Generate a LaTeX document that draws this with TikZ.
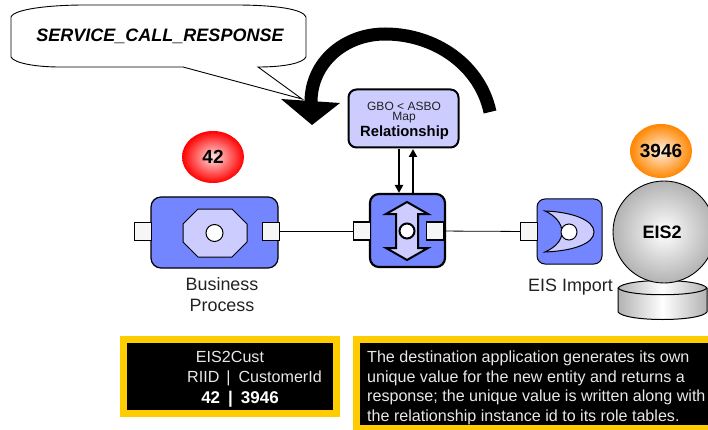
\documentclass[tikz,border=0pt]{standalone}
\usepackage{fontspec}
\setmainfont{Liberation Sans}
\usetikzlibrary{arrows.meta,shapes.geometric}
\definecolor{boxblue}{HTML}{7486FF}
\definecolor{pale}{HTML}{CCCCFF}
\definecolor{portfill}{HTML}{F6F6F6}
\definecolor{gold}{HTML}{FFCC00}
\definecolor{txt}{HTML}{222222}
\definecolor{notetxt}{HTML}{E8E8E8}
\tikzset{
  lbl/.style={font=\fontsize{17.9}{20}\selectfont,text=txt,inner sep=0pt,align=center},
  notetext/.style={font=\fontsize{16.1}{19.6}\selectfont,text=notetxt,inner sep=0pt},
  counter/.style={font=\bfseries\fontsize{19}{22}\selectfont,text=black,inner sep=0pt},
  port/.style={draw=black,fill=portfill,line width=1pt,minimum width=17pt,minimum height=18pt,inner sep=0pt},
  portthick/.style={port,line width=1.8pt},
  wire/.style={draw=black,line width=0.8pt},
  flow/.style={draw=black,line width=2pt,-{Triangle[length=8pt,width=8pt]}},
  note/.style={fill=black,draw=gold,line width=7pt}
}
\begin{document}
\begin{tikzpicture}[x=1pt,y=-1pt]
\useasboundingbox (0,0) rectangle (708,430);
\clip (0,0) rectangle (708,430);
% callout
\draw[fill=white,line width=0.9pt] (11,17) .. controls (14,9) and (50,5) .. (85,5) -- (235,5)
  .. controls (275,5) and (303,9) .. (306,17) -- (306,57)
  .. controls (303,63) and (285,67) .. (258,67) -- (302,99) -- (183,67) -- (60,67)
  .. controls (35,67) and (14,63) .. (11,57) -- cycle;
\node[font=\bfseries\itshape\fontsize{18}{20}\selectfont,inner sep=0pt] (callout) at (160,36) {SERVICE\_CALL\_RESPONSE};
% big arc
\draw[line width=13pt] (490,112) .. controls (480,65) and (435,34) .. (385,34)
  .. controls (345,34) and (311,62) .. (311,102);
\fill (281,99) -- (340,103) -- (312,125) -- cycle;
% relationship
\node[draw=black,fill=pale,line width=2pt,rounded corners=8pt,minimum width=110pt,minimum height=58pt,inner sep=0pt] (rel) at (403.5,118.5) {};
\node[lbl,font=\fontsize{12}{14}\selectfont] (gbo) at (404,106) {GBO < ASBO};
\node[lbl,font=\fontsize{12}{14}\selectfont] (map) at (404,118) {Map};
\node[lbl,font=\bfseries\fontsize{14.8}{18}\selectfont,text=black] (reltxt) at (404.5,133) {Relationship};
% counters
\node[ellipse,minimum width=62pt,minimum height=52pt,inner sep=0pt,inner color=white!88!red,outer color=red] (red) at (213,157) {};
\path (213,157) node[counter] (c42) {42};
\node[ellipse,minimum width=62pt,minimum height=54pt,inner sep=0pt,inner color=white!88!orange,outer color=orange!95!yellow] (org) at (661,151) {};
\path (661,151) node[counter] (c3946) {3946};
% business process
\node[draw=black,fill=boxblue,line width=1.2pt,rounded corners=10pt,minimum width=127pt,minimum height=71pt,inner sep=0pt] (bp) at (214.5,232.5) {};
\node[port] (bpl) at (142.5,231) {};
\node[port] (bpr) at (270.5,231) {};
\draw[line width=1pt,fill=pale] (198,209) -- (232,209) -- (247,224) -- (247,242) -- (232,257) -- (198,257) -- (183,242) -- (183,224) -- cycle;
\node[circle,draw=black,fill=white,line width=1pt,minimum size=17pt,inner sep=0pt] (bpc) at (214.5,233) {};
\node[lbl] (bptxt) at (222,294.5) {Business\\[1pt]Process};
% mediator
\node[draw=black,fill=boxblue,line width=2.2pt,rounded corners=9pt,minimum width=75pt,minimum height=73pt,inner sep=0pt] (med) at (407.5,230.5) {};
\draw[line width=2pt,fill=pale,line join=miter] (407,202) -- (428,214) -- (418,214) -- (418,248) -- (428,248) -- (407,260) -- (386,248) -- (396,248) -- (396,214) -- (386,214) -- cycle;
\node[circle,draw=black,fill=white,line width=2pt,minimum size=15pt,inner sep=0pt] (medc) at (407,231) {};
\node[portthick] (medl) at (362,231) {};
\node[portthick] (medr) at (435,231) {};
% eis import
\node[draw=black,fill=boxblue,line width=1pt,rounded corners=8pt,minimum width=65pt,minimum height=65pt,inner sep=0pt] (imp) at (569.5,231.5) {};
\node[port] (impl) at (529,231.5) {};
\draw[line width=1pt,fill=pale] (545,211) .. controls (572,212) and (594,220) .. (594,232)
  .. controls (594,244) and (572,251) .. (545,252) .. controls (556,247) and (562,240) .. (562,232)
  .. controls (562,224) and (556,216) .. (545,211) -- cycle;
\node[circle,draw=black,fill=white,line width=1pt,minimum size=16pt,inner sep=0pt] (impc) at (569,232) {};
\node[lbl] (imptxt) at (570.5,287) {EIS Import};
% cylinder
\draw[line width=1pt,left color=black!30,right color=black!30,middle color=white] (618,288) -- (618,312)
  .. controls (625,322) and (700,322) .. (707,312) -- (707,288) .. controls (700,278) and (625,278) .. (618,288) -- cycle;
\draw[line width=1pt] (618,288) .. controls (625,297) and (700,297) .. (707,288);
% sphere
\node[circle,draw=black,line width=0.9pt,minimum size=102pt,inner sep=0pt,inner color=white,outer color=black!30] (eis) at (664,232) {};
\path (662,232) node[counter,font=\bfseries\fontsize{18}{20}\selectfont] (eistxt) {EIS2};
% connectors
\draw[wire] (bpr) -- (medl);
\draw[wire] (medr) -- (impl);
\coordinate (reld) at (399,149);
\coordinate (medd) at (399,193);
\coordinate (medu) at (413,193);
\coordinate (relu) at (413,149);
\draw[flow] (reld) -- (medd);
\draw[flow] (medu) -- (relu);
% notes
\draw[note] (123.5,339.5) rectangle (336.5,413.5);
\node[notetext,anchor=base] (n1) at (230,362) {EIS2Cust};
\node[notetext,anchor=base] (n2) at (254.5,382) {RIID\hspace{7pt}|\hspace{8pt}CustomerId};
\node[notetext,anchor=base,font=\bfseries\fontsize{17}{20}\selectfont,text=white] (n3) at (240,403) {42\hspace{8pt}|\hspace{8pt}3946};
\draw[note] (356.5,339.5) rectangle (730,428);
\node[notetext,anchor=base west] (t1) at (367,362) {The destination application generates its own};
\node[notetext,anchor=base west] (t2) at (367,382) {unique value for the new entity and returns a};
\node[notetext,anchor=base west] (t3) at (367,401.5) {response; the unique value is written along with};
\node[notetext,anchor=base west] (t4) at (367,421) {the relationship instance id to its role tables.};
\end{tikzpicture}
\end{document}
